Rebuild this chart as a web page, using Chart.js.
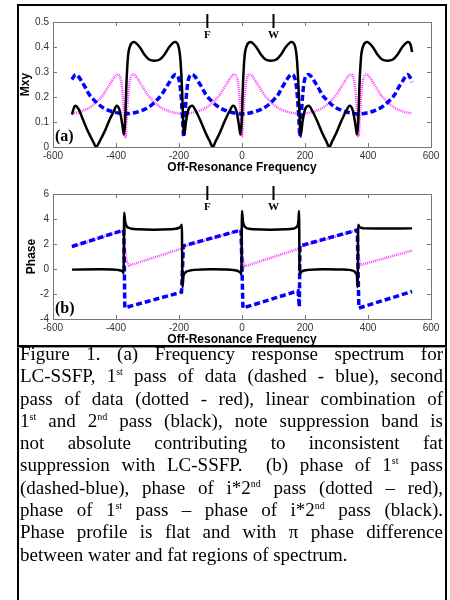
<!DOCTYPE html>
<html>
<head>
<meta charset="utf-8">
<script src="https://cdn.jsdelivr.net/npm/chart.js@4.4.0/dist/chart.umd.min.js"></script>
<style>
  body { margin: 0; background: #fff; width: 450px; height: 600px; overflow: hidden; position: relative; }
  #frame { position: absolute; left: 17px; top: 4px; width: 426px; height: 339px; border: 2px solid #000; }
  #capbox { position: absolute; left: 17px; top: 347px; width: 426px; height: 270px; border-left: 2px solid #000; border-right: 2px solid #000; border-top: 1px solid #999; }
  canvas { position: absolute; left: 0; }
  #caption { position: absolute; left: 20px; top: 343px; width: 423px; font-family: "Liberation Serif", "Times New Roman", serif; font-size: 19px; line-height: 22.3px; color: #000; }
  #caption div { text-align: justify; text-align-last: justify; }
  #caption div.last { text-align-last: left; }
  sup { font-size: 10px; line-height: 0; vertical-align: 7px; }
</style>
</head>
<body>
<div id="frame"></div>
<div id="capbox"></div>
<canvas id="chartA" width="450" height="178" style="top:0"></canvas>
<canvas id="chartB" width="450" height="167" style="top:180px"></canvas>
<div id="caption">
  <div>Figure 1. (a) Frequency response spectrum for</div>
  <div>LC-SSFP, 1<sup>st</sup> pass of data (dashed - blue), second</div>
  <div>pass of data (dotted - red), linear combination of</div>
  <div>1<sup>st</sup> and 2<sup>nd</sup> pass (black), note suppression band is</div>
  <div>not absolute contributing to inconsistent fat</div>
  <div>suppression with LC-SSFP.&nbsp; (b) phase of 1<sup>st</sup> pass</div>
  <div>(dashed-blue), phase of i*2<sup>nd</sup> pass (dotted – red),</div>
  <div>phase of 1<sup>st</sup> pass – phase of i*2<sup>nd</sup> pass (black).</div>
  <div>Phase profile is flat and with π phase difference</div>
  <div class="last">between water and fat regions of spectrum.</div>
</div>
<script>
// (a) magnitude
const freqA_black = [-540,-530,-518,-505,-490,-478,-470,-463,-455,-447,-435,-420,-408,-398,-388,-380,-375,-371,-367,-362,-355,-343,-325,-310,-295,-278,-261,-246,-231,-213,-201,-195,-190,-186,-183,-178,-170,-158,-145,-130,-115,-103,-93,-83,-71,-56,-41,-28,-18,-10,-5,-1,3,8,15,27,45,60,75,92,109,124,139,157,169,175,180,184,187,192,200,212,225,240,255,267,277,287,299,314,329,342,352,360,365,369,373,378,385,397,415,430,445,462,479,494,509,527,535,540];
const mxyA_black = [0.13,0.165,0.15,0.11,0.065,0.035,0.015,0,0.015,0.035,0.065,0.11,0.14,0.165,0.145,0.09,0.05,0.1,0.25,0.36,0.405,0.42,0.40,0.37,0.35,0.345,0.35,0.37,0.40,0.42,0.40,0.34,0.22,0.08,0.05,0.1,0.15,0.165,0.14,0.1,0.055,0.025,0,0.025,0.055,0.1,0.14,0.165,0.145,0.09,0.05,0.1,0.25,0.36,0.405,0.42,0.40,0.37,0.35,0.345,0.35,0.37,0.40,0.42,0.40,0.34,0.22,0.08,0.05,0.1,0.15,0.165,0.14,0.1,0.055,0.025,0,0.025,0.055,0.1,0.14,0.165,0.145,0.09,0.05,0.1,0.25,0.36,0.405,0.42,0.40,0.37,0.35,0.345,0.35,0.37,0.40,0.42,0.41,0.38];

const freqA_blue = [-540,-528,-518,-508,-498,-485,-470,-455,-438,-420,-405,-385,-370,-355,-335,-320,-302,-285,-270,-255,-240,-230,-220,-212,-200,-193,-188,-185,-182,-177,-170,-158,-148,-138,-128,-115,-100,-85,-68,-50,-35,-15,0,15,35,50,68,85,100,115,128,138,148,157,169,176,181,184,187,192,199,211,221,231,241,254,269,284,301,319,334,354,370,386,405,420,438,455,470,485,498,508,518,525,533,540];
const mxyA_blue = [0.27,0.29,0.28,0.26,0.24,0.21,0.188,0.17,0.155,0.145,0.139,0.134,0.132,0.134,0.139,0.145,0.155,0.17,0.188,0.21,0.24,0.26,0.28,0.29,0.27,0.2,0.1,0.04,0.1,0.2,0.27,0.29,0.28,0.26,0.24,0.21,0.188,0.17,0.155,0.145,0.139,0.134,0.132,0.134,0.139,0.145,0.155,0.17,0.188,0.21,0.24,0.26,0.28,0.29,0.27,0.2,0.1,0.04,0.1,0.2,0.27,0.29,0.28,0.26,0.24,0.21,0.188,0.17,0.155,0.145,0.139,0.134,0.132,0.134,0.139,0.145,0.155,0.17,0.188,0.21,0.24,0.26,0.28,0.29,0.28,0.26];

const freqA_mag = [-540,-520,-505,-487,-470,-455,-440,-425,-415,-405,-395,-384,-378,-373,-370,-367,-362,-356,-345,-335,-325,-315,-300,-285,-270,-253,-235,-220,-200,-185,-170,-150,-135,-117,-100,-85,-70,-55,-45,-35,-25,-14,-8,-3,0,3,8,14,25,35,45,55,70,85,100,117,135,150,170,185,200,220,235,253,270,285,300,315,325,335,345,356,362,367,370,373,378,384,395,405,415,425,440,455,470,487,505,520,540];
const mxyA_mag = [0.134,0.139,0.145,0.155,0.17,0.188,0.21,0.24,0.26,0.28,0.29,0.265,0.2,0.1,0.04,0.1,0.2,0.265,0.29,0.28,0.26,0.24,0.21,0.188,0.17,0.155,0.145,0.139,0.134,0.132,0.134,0.139,0.145,0.155,0.17,0.188,0.21,0.24,0.26,0.28,0.29,0.265,0.2,0.1,0.04,0.1,0.2,0.265,0.29,0.28,0.26,0.24,0.21,0.188,0.17,0.155,0.145,0.139,0.134,0.132,0.134,0.139,0.145,0.155,0.17,0.188,0.21,0.24,0.26,0.28,0.29,0.265,0.2,0.1,0.04,0.1,0.2,0.265,0.29,0.28,0.26,0.24,0.21,0.188,0.17,0.155,0.145,0.139,0.134];

// (b) phase
const freqB_black = [-540,-450,-410,-395,-385,-379,-376,-374,-371,-367,-360,-350,-330,-280,-230,-210,-200,-195,-191,-189,-186,-182,-175,-165,-150,-100,-50,-30,-18,-10,-5,-2,0,3,7,13,22,40,90,140,160,170,176,179,181,183,186,190,197,210,260,320,340,350,357,362,365,367,369,372,378,390,420,540];
const phaseB_black = [-0.05,-0.02,-0.04,-0.07,-0.12,-0.2,-0.35,4.5,3.8,3.45,3.3,3.22,3.18,3.15,3.18,3.22,3.3,3.38,3.55,-1.45,-0.6,-0.35,-0.2,-0.12,-0.07,-0.02,-0.04,-0.07,-0.12,-0.2,-0.3,-0.4,4.65,3.8,3.45,3.3,3.22,3.18,3.15,3.18,3.22,3.3,3.45,3.8,4.65,-0.4,-0.3,-0.2,-0.12,-0.07,-0.02,-0.04,-0.07,-0.12,-0.2,-0.35,-0.6,-1.45,3.55,3.38,3.3,3.25,3.24,3.25];

const freqB_blue = [-540,-375,-372,-192,-186,-3,3,178,182,184,366,371,540];
const phaseB_blue = [1.8,3.12,-3.1,-1.85,1.85,3.12,-3.12,-1.75,-3.05,1.85,3.12,-3.12,-1.8];

const freqB_mag = [-540,-375,-372,-366,-358,-190,-184,-3,0,4,9,180,186,366,369,374,540];
const phaseB_mag = [1.75,3.1,1.8,0.6,0.28,1.65,1.8,3.1,1.6,0.5,0.22,1.62,1.8,3.1,1.5,0.3,1.48];

// F / W markers
const markerFreqs = [-110, 100];
const markerLabels = ["F", "W"];

const toPoints = (xs, ys) => xs.map((x, i) => ({ x: x, y: ys[i] }));

// box with inward ticks, F/W markers, panel letter
const decorPlugin = {
  id: "decor",
  afterDraw(chart, args, opts) {
    const ctx = chart.ctx;
    const a = chart.chartArea;
    const x = chart.scales.x, y = chart.scales.y;
    ctx.save();
    ctx.strokeStyle = "#777";
    ctx.lineWidth = 1;
    ctx.strokeRect(Math.round(a.left) + 0.5, Math.round(a.top) + 0.5, Math.round(a.right - a.left), Math.round(a.bottom - a.top));
    ctx.beginPath();
    x.ticks.forEach(t => {
      const px = Math.round(x.getPixelForValue(t.value)) + 0.5;
      ctx.moveTo(px, a.bottom); ctx.lineTo(px, a.bottom - 4);
      ctx.moveTo(px, a.top); ctx.lineTo(px, a.top + 4);
    });
    y.ticks.forEach(t => {
      const py = Math.round(y.getPixelForValue(t.value)) + 0.5;
      ctx.moveTo(a.left, py); ctx.lineTo(a.left + 4, py);
      ctx.moveTo(a.right, py); ctx.lineTo(a.right - 4, py);
    });
    ctx.stroke();

    ctx.strokeStyle = "#000";
    ctx.fillStyle = "#000";
    ctx.lineWidth = 2;
    ctx.font = "bold 11px 'Liberation Serif'";
    ctx.textAlign = "center";
    ctx.textBaseline = "middle";
    markerFreqs.forEach((f, i) => {
      const px = x.getPixelForValue(f);
      ctx.beginPath();
      ctx.moveTo(px, a.top - 8);
      ctx.lineTo(px, a.top + 6);
      ctx.stroke();
      ctx.fillText(markerLabels[i], px, a.top + 13);
    });

    ctx.font = "bold 16px 'Liberation Serif'";
    ctx.textAlign = "left";
    ctx.textBaseline = "alphabetic";
    ctx.fillText(opts.panel, a.left + 2, a.bottom - 6);
    ctx.restore();
  }
};

function makeChart(id, datasets, yOpts, yTitle, panel, pad) {
  return new Chart(document.getElementById(id), {
    type: "line",
    data: { datasets: datasets },
    options: {
      responsive: false,
      animation: false,
      layout: { padding: pad },
      plugins: { legend: { display: false }, tooltip: { enabled: false }, decor: { panel: panel } },
      elements: { point: { radius: 0 } },
      scales: {
        x: {
          type: "linear",
          min: -600, max: 600,
          grid: { display: false, drawTicks: false },
          border: { display: false },
          ticks: { stepSize: 200, padding: 3, color: "#333", font: { family: "Liberation Sans", size: 10 }, maxRotation: 0 },
          title: { display: true, text: "Off-Resonance Frequency", color: "#000", padding: 0, font: { family: "Liberation Sans", size: 12, weight: "bold" } },
          afterFit: s => { s.height = yOpts.xAxisH; }
        },
        y: {
          min: yOpts.min, max: yOpts.max,
          grid: { display: false, drawTicks: false },
          border: { display: false },
          ticks: { stepSize: yOpts.step, padding: 4, color: "#333", font: { family: "Liberation Sans", size: 10 } },
          title: { display: true, text: yTitle, color: "#000", padding: 0, font: { family: "Liberation Sans", size: 12, weight: "bold" } },
          afterFit: s => { s.width = yOpts.yAxisW; }
        }
      }
    },
    plugins: [decorPlugin]
  });
}

const blackLine = { borderColor: "#000", borderWidth: 2.5, cubicInterpolationMode: "monotone", fill: false };
const blueLine = { borderColor: "#0000ff", borderWidth: 3.5, borderDash: [6, 3], fill: false };
const magLine = { borderColor: "#ff40ff", borderWidth: 2.5, borderDash: [1, 1], fill: false };

makeChart("chartA", [
  Object.assign({ data: toPoints(freqA_black, mxyA_black) }, blackLine),
  Object.assign({ data: toPoints(freqA_blue, mxyA_blue), cubicInterpolationMode: "monotone" }, blueLine),
  Object.assign({ data: toPoints(freqA_mag, mxyA_mag), cubicInterpolationMode: "monotone" }, magLine)
], { min: 0, max: 0.5, step: 0.1, xAxisH: 28, yAxisW: 35 }, "Mxy", "(a)",
  { left: 18, right: 19, top: 22, bottom: 3 });

makeChart("chartB", [
  Object.assign({ data: toPoints(freqB_black, phaseB_black) }, blackLine),
  Object.assign({ data: toPoints(freqB_blue, phaseB_blue) }, blueLine),
  Object.assign({ data: toPoints(freqB_mag, phaseB_mag) }, magLine)
], { min: -4, max: 6, step: 2, xAxisH: 28, yAxisW: 29 }, "Phase", "(b)",
  { left: 24, right: 19, top: 14, bottom: 0 });
</script>
</body>
</html>
